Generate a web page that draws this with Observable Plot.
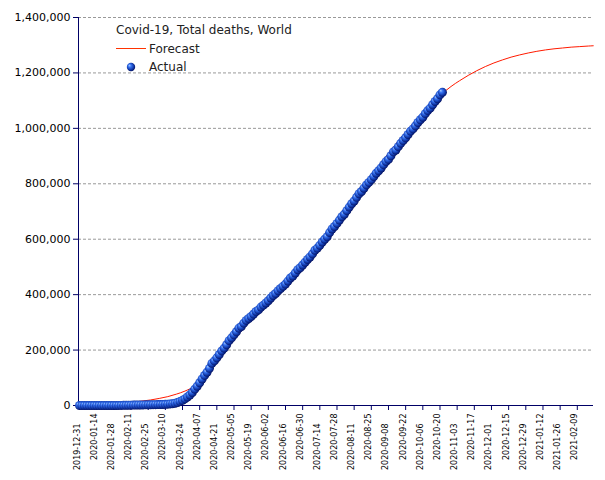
<!DOCTYPE html>
<html><head><meta charset="utf-8">
<script src="https://cdn.jsdelivr.net/npm/d3@7"></script>
<script src="https://cdn.jsdelivr.net/npm/@observablehq/plot@0.6"></script>
<style>body{margin:0;background:#fff;} #chart{width:605px;height:480px;}</style>
</head><body><div id="chart"></div>
<script>
const title = "Covid-19, Total deaths, World";
const legendLabels = ["Forecast", "Actual"];

// Actual: one value every 2 days, starting 2019-12-31
const actualStart = "2019-12-31";
const actualStepDays = 2;
const actualDeaths = [
// Dec 31, Jan 2 .. Jan 30
0,0,0,0,0,0,1,1,2,3,3,17,26,56,106,170,
// Feb 1 .. Feb 29
259,426,565,724,908,1113,1370,1669,1873,2009,2251,2469,2708,2801,2941,
// Mar 2 .. Mar 30
3085,3285,3460,3800,4262,4720,5750,6600,8250,10500,14700,18600,23900,30800,37800,
// Apr 1 .. Apr 29
47000,59000,69500,82000,95700,108500,120000,134000,152000,161000,172000,184000,197000,207000,219000,
// May 1 .. May 31
234000,244000,255000,266000,279000,285000,297000,307000,314000,321000,330000,339000,345000,355000,362000,370000,
// Jun 2 .. Jun 30
378000,388000,397000,404000,414000,422000,430000,438000,449000,460000,467000,478000,490000,497000,507000,
// Jul 2 .. Jul 30
517000,527000,536000,547000,560000,568000,578000,590000,600000,609000,624000,637000,646000,657000,669000,
// Aug 1 .. Aug 31
681000,690000,703000,716000,728000,738000,751000,764000,772000,784000,796000,805000,815000,826000,838000,847000,
// Sep 2 .. Sep 30
857000,869000,880000,888000,901000,915000,922000,934000,946000,956000,966000,978000,990000,998000,1009000,
// Oct 2 .. Oct 22
1021000,1031000,1040000,1053000,1064000,1073000,1085000,1097000,1107000,1121000,1130000
];

const forecastDates = [
"2020-02-13","2020-02-20","2020-02-27","2020-03-05","2020-03-12","2020-03-19","2020-03-26",
"2020-04-02","2020-04-09","2020-04-16","2020-04-23","2020-04-30","2020-05-07","2020-05-14","2020-05-21","2020-05-28",
"2020-06-04","2020-06-11","2020-06-18","2020-06-25","2020-07-02","2020-07-09","2020-07-16","2020-07-23","2020-07-30",
"2020-08-06","2020-08-13","2020-08-20","2020-08-27","2020-09-03","2020-09-10","2020-09-17","2020-09-24",
"2020-10-01","2020-10-08","2020-10-15","2020-10-22","2020-10-29","2020-11-05","2020-11-12","2020-11-19","2020-11-26",
"2020-12-03","2020-12-10","2020-12-17","2020-12-24","2020-12-31","2021-01-07","2021-01-14","2021-01-21","2021-01-28",
"2021-02-04","2021-02-11","2021-02-18","2021-02-22"
];
const forecastDeaths = [
12500,16000,20000,25500,32000,41000,52000,
68000,95000,135000,176000,214000,250000,284000,316000,347000,
378000,408000,438000,470000,505000,545000,588000,632000,676000,
719000,761000,802000,842000,882000,921000,960000,997000,
1033000,1067000,1098000,1126000,1151000,1172000,1191000,1208000,1223000,
1236000,1247000,1257000,1265000,1272000,1278000,1283000,1287000,1290000,
1293000,1295000,1297000,1298000
];

const yTicks = [0, 200000, 400000, 600000, 800000, 1000000, 1200000, 1400000];
const xTickLabels = [
"2019-12-31","2020-01-14","2020-01-28","2020-02-11","2020-02-25","2020-03-10","2020-03-24","2020-04-07",
"2020-04-21","2020-05-05","2020-05-19","2020-06-02","2020-06-16","2020-06-30","2020-07-14","2020-07-28",
"2020-08-11","2020-08-25","2020-09-08","2020-09-22","2020-10-06","2020-10-20","2020-11-03","2020-11-17",
"2020-12-01","2020-12-15","2020-12-29","2021-01-12","2021-01-26","2021-02-09"
];

const parse = d3.utcParse("%Y-%m-%d");
const start = parse(actualStart);
const actual = actualDeaths.map((v, i) => ({date: d3.utcDay.offset(start, i * actualStepDays), value: v}));
const forecast = forecastDates.map((d, i) => ({date: parse(d), value: forecastDeaths[i]}));
const xTicks = xTickLabels.map(parse);
const labelData = xTickLabels.map((s, i) => ({date: parse(s), label: s, i}));

const navy = "#000066";
const xDomain = [new Date("2019-12-30T04:00Z"), new Date("2021-02-22T05:00Z")];

const plot = Plot.plot({
  width: 605, height: 480,
  marginLeft: 78, marginRight: 12, marginTop: 17, marginBottom: 75,
  style: {fontFamily: "DejaVu Sans", fontSize: "11px", color: "#000", background: "#fff", overflow: "visible"},
  x: {type: "utc", domain: xDomain},
  y: {domain: [0, 1400000]},
  marks: [
    Plot.gridY(yTicks, {stroke: "#999", strokeOpacity: 1, strokeDasharray: "3,2"}),
    Plot.axisY(yTicks, {tickFormat: d3.format(","), tickSize: 5, tickPadding: 3, stroke: navy, fill: "#000", fontSize: 11, label: null}),
    Plot.axisX(xTicks, {tickFormat: () => "", tickSize: 5, stroke: navy, label: null}),
    Plot.text(labelData.filter(d => d.i % 2 === 1), {x: "date", text: "label", frameAnchor: "bottom", rotate: -90, textAnchor: "end", dy: 8, fontSize: 8, fill: "#000"}),
    Plot.text(labelData.filter(d => d.i % 2 === 0), {x: "date", text: "label", frameAnchor: "bottom", rotate: -90, textAnchor: "end", dy: 18, fontSize: 8, fill: "#000"}),
    Plot.ruleY([0], {stroke: navy}),
    Plot.ruleX([xDomain[0]], {stroke: navy}),
    Plot.line(forecast, {x: "date", y: "value", stroke: "#ff1a00", strokeWidth: 1, curve: "monotone-x"}),
    Plot.dot(actual, {x: "date", y: "value", r: 4.5, fill: "#2a62e0", stroke: "none"})
  ]
});

const svg = d3.select(plot);
svg.insert("defs", ":first-child").html(
  '<radialGradient id="ball" cx="0.45" cy="0.45" r="0.6" fx="0.3" fy="0.3">' +
  '<stop offset="0" stop-color="#a8ccff"/><stop offset="0.3" stop-color="#3a76f2"/>' +
  '<stop offset="0.65" stop-color="#1540b4"/><stop offset="1" stop-color="#000a55"/></radialGradient>');
svg.selectAll("circle").attr("fill", "url(#ball)");

const leg = svg.append("g").attr("font-family", "DejaVu Sans").attr("font-size", 12).attr("fill", "#222").attr("text-anchor", "start");
leg.append("text").attr("x", 116).attr("y", 34).text(title);
leg.append("line").attr("x1", 116).attr("x2", 146).attr("y1", 48.5).attr("y2", 48.5).attr("stroke", "#ff3300").attr("stroke-width", 1);
leg.append("text").attr("x", 149).attr("y", 53).text(legendLabels[0]);
leg.append("circle").attr("cx", 131).attr("cy", 67).attr("r", 4.2).attr("fill", "url(#ball)");
leg.append("text").attr("x", 149).attr("y", 71).text(legendLabels[1]);

document.getElementById("chart").appendChild(plot);
</script>
</body></html>
